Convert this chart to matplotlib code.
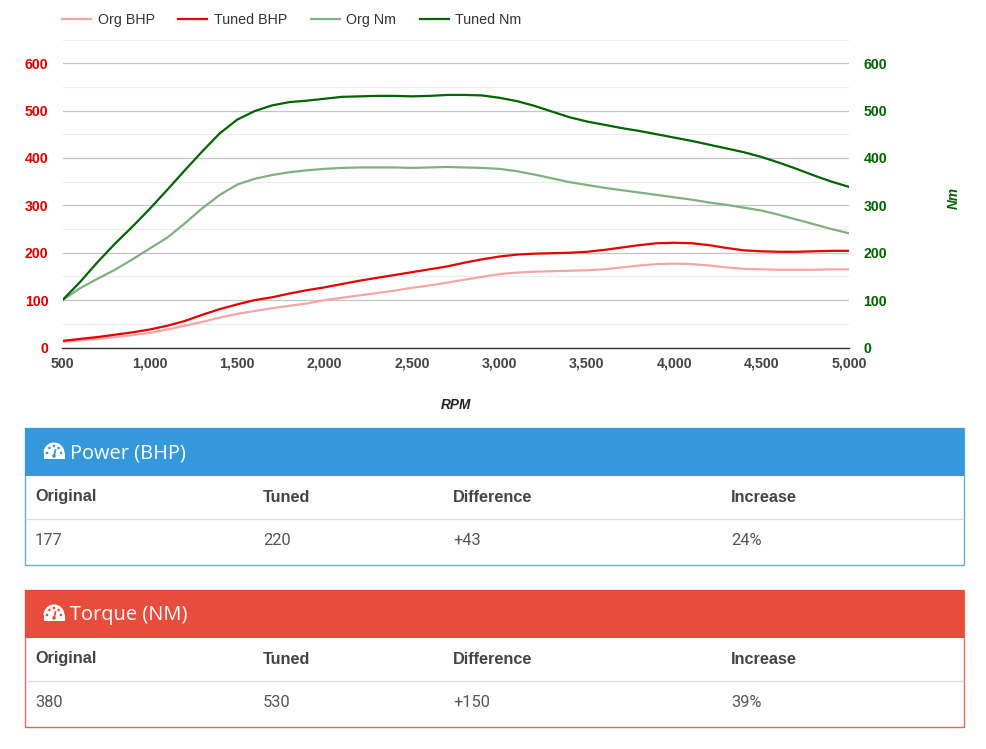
import matplotlib
matplotlib.use('Agg')
import matplotlib.pyplot as plt
from matplotlib.patches import Rectangle, Wedge, Circle

W, H = 986, 749

rpm = [500, 600, 700, 800, 900, 1000, 1100, 1200, 1300, 1400, 1500, 1600, 1700, 1800, 1900,
       2000, 2100, 2200, 2300, 2400, 2500, 2600, 2700, 2800, 2900, 3000, 3100, 3200, 3300, 3400,
       3500, 3600, 3700, 3800, 3900, 4000, 4100, 4200, 4300, 4400, 4500, 4600, 4700, 4800, 4900, 5000]
org_bhp = [12, 15, 18, 22, 26, 31, 38, 46, 54, 63, 71, 77, 83, 88, 93,
           100, 105, 110, 115, 120, 126, 131, 137, 143, 149, 155, 158, 160, 161, 162,
           163, 165, 169, 173, 176, 177, 176, 173, 169, 166, 165, 164, 164, 164, 165, 165]
tuned_bhp = [14, 18, 22, 27, 32, 38, 46, 56, 69, 81, 91, 100, 106, 114, 121,
             127, 134, 141, 147, 153, 159, 165, 171, 179, 186, 192, 196, 198, 199, 200,
             202, 206, 211, 216, 220, 221, 220, 216, 210, 205, 203, 202, 202, 203, 204, 204]
org_nm = [100, 125, 145, 164, 186, 209, 232, 262, 294, 322, 344, 356, 364, 370, 374,
          377, 379, 380, 380, 380, 379, 380, 381, 380, 379, 377, 372, 365, 357, 349,
          343, 337, 332, 327, 322, 317, 312, 306, 301, 295, 289, 280, 270, 260, 250, 241]
tuned_nm = [100, 138, 180, 219, 255, 293, 333, 374, 414, 452, 481, 499, 511, 518, 521,
            525, 529, 530, 531, 531, 530, 531, 533, 533, 532, 527, 520, 510, 498, 486,
            477, 470, 463, 457, 450, 443, 436, 428, 420, 412, 402, 390, 377, 363, 350, 339]

x_ticks = [500, 1000, 1500, 2000, 2500, 3000, 3500, 4000, 4500, 5000]
y_ticks = [0, 100, 200, 300, 400, 500, 600]
y_minor = [50, 150, 250, 350, 450, 550, 650]

col_names = ['Original', 'Tuned', 'Difference', 'Increase']
power_row = ['177', '220', '+43', '24%']
torque_row = ['380', '530', '+150', '39%']

fig = plt.figure(figsize=(W / 100, H / 100), dpi=100)

# main chart, bounds given in pixels
left, right, top, bottom = 62.5, 849, 39.5, 347.5
ax = fig.add_axes([left / W, 1 - bottom / H, (right - left) / W, (bottom - top) / H])
ax.set_xlim(500, 5000)
ax.set_ylim(0, 650)
ax.set_xticks(x_ticks)
ax.set_xticklabels([f'{v:,}' for v in x_ticks], fontfamily='Liberation Sans',
                   fontweight='bold', fontsize=10.2, color='#444444')
ax.set_yticks(y_ticks)
ax.set_yticklabels([str(v) for v in y_ticks], fontfamily='Liberation Sans',
                   fontweight='bold', fontsize=10.2, color='#dd0000')
ax.set_yticks(y_minor, minor=True)
ax.tick_params(which='both', length=0)
ax.tick_params(axis='x', pad=6.5)
ax.tick_params(axis='y', pad=10)
ax.grid(True, which='major', axis='y', color='#c4c4c4', lw=0.9)
ax.grid(True, which='minor', axis='y', color='#ebebeb', lw=0.9)
ax.set_axisbelow(True)
for s in ['top', 'left', 'right']:
    ax.spines[s].set_visible(False)
ax.spines['bottom'].set_color('#333333')
ax.spines['bottom'].set_linewidth(1)

l1, = ax.plot(rpm, org_bhp, color='#f4a6a6', lw=1.6, label='Org BHP')
l2, = ax.plot(rpm, tuned_bhp, color='#e60000', lw=1.6, label='Tuned BHP')
l3, = ax.plot(rpm, org_nm, color='#80b080', lw=1.6, label='Org Nm')
l4, = ax.plot(rpm, tuned_nm, color='#006400', lw=1.6, label='Tuned Nm')

ax2 = ax.twinx()
ax2.set_ylim(0, 650)
ax2.set_yticks(y_ticks)
ax2.set_yticklabels([str(v) for v in y_ticks], fontfamily='Liberation Sans',
                    fontweight='bold', fontsize=10.2, color='#006400')
ax2.tick_params(length=0, pad=10.5)
for s in ax2.spines.values():
    s.set_visible(False)

fig.legend(handles=[l1, l2, l3, l4], loc='upper left', bbox_to_anchor=(49.3 / W, 1),
           ncol=4, frameon=False, prop={'family': 'Liberation Sans', 'size': 10.3},
           labelcolor='#333333', handlelength=2.03, handletextpad=0.45, columnspacing=1.65)

# overlay in pixel coordinates for axis titles and the two result panels
ov = fig.add_axes([0, 0, 1, 1], zorder=5)
ov.set_xlim(0, W)
ov.set_ylim(H, 0)
ov.axis('off')

ov.text(456, 405, 'RPM', ha='center', va='center', family='Liberation Sans',
        style='italic', weight='bold', fontsize=9.8, color='#222222')
ov.text(954, 198, 'Nm', ha='center', va='center', rotation=90, family='Liberation Sans',
        style='italic', weight='bold', fontsize=9.8, color='#006400')


def draw_gauge(cx, cy, color):
    ov.add_patch(Wedge((cx, cy), 10.5, 180, 360, fc='white', ec='none'))
    ov.add_patch(Rectangle((cx - 10.5, cy), 21, 5.5, fc='white', ec='none'))
    for dx, dy in [(-7, 0), (-4.5, -5), (0, -7), (4.5, -5), (7, 0)]:
        ov.add_patch(Circle((cx + dx, cy + dy), 1.3, fc=color, ec='none'))
    ov.plot([cx, cx + 1.5], [cy + 3, cy - 3], color=color, lw=1.3)
    ov.add_patch(Circle((cx, cy + 3), 1.8, fc=color, ec='none'))


def draw_panel(y0, title, row, head_color, edge_color):
    x0, x1 = 25, 964
    ov.add_patch(Rectangle((x0, y0), x1 - x0, 137, fc='white', ec=edge_color, lw=1.0))
    ov.add_patch(Rectangle((x0, y0), x1 - x0, 48, fc=head_color, ec='none'))
    ov.plot([x0 + 1, x1 - 1], [y0 + 91, y0 + 91], color='#dddddd', lw=1.0)
    draw_gauge(54, y0 + 25, head_color)
    ov.text(70.5, y0 + 25, title, ha='left', va='center', family='Open Sans',
            fontsize=14.4, color='white')
    for xc, name, val in zip([35, 263, 453, 731], col_names, row):
        ov.text(xc, y0 + 69, name, ha='left', va='center', family='Liberation Sans',
                weight='bold', fontsize=11.7, color='#444444')
        ov.text(xc, y0 + 112.5, val, ha='left', va='center', family='Roboto',
                fontsize=11.8, color='#555555')


draw_panel(428, 'Power (BHP)', power_row, '#3498db', '#6ba8d4')
draw_panel(590, 'Torque (NM)', torque_row, '#e74c3c', '#e2685c')

plt.savefig('out.png', dpi=100)
plt.close('all')
